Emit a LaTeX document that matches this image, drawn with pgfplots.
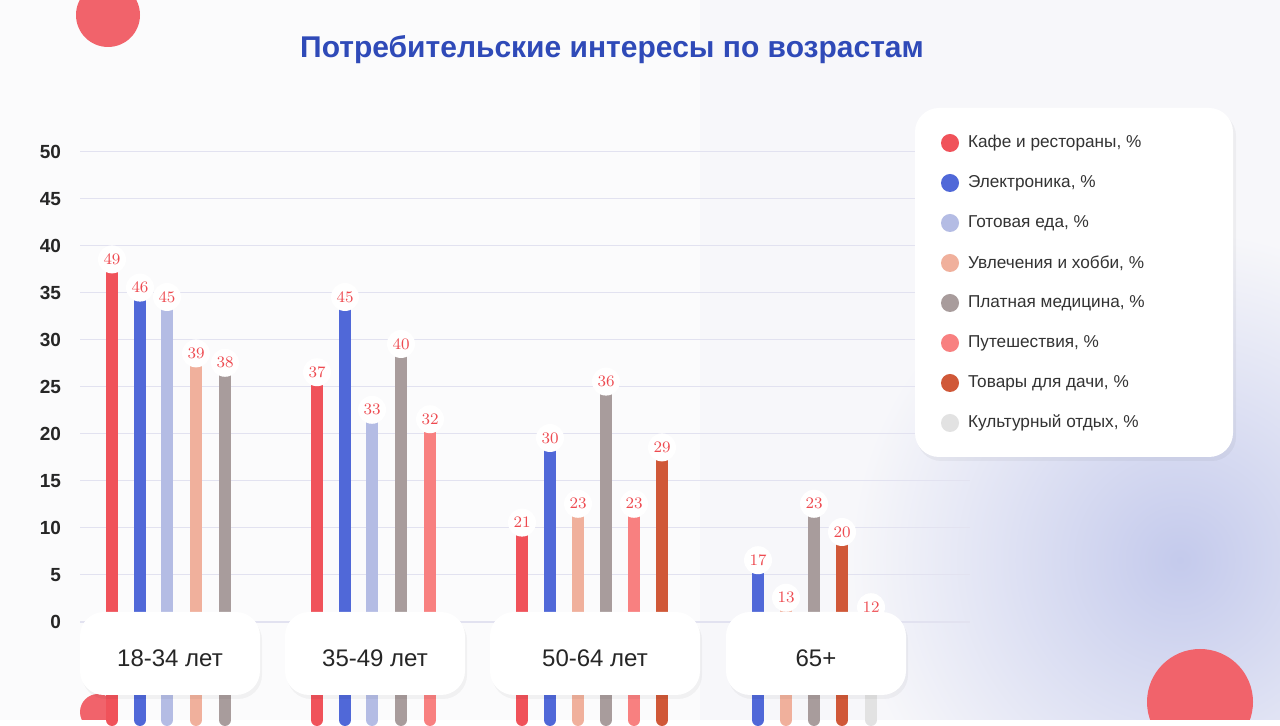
\documentclass[border=0pt]{standalone}
\usepackage{pgfplots}
\pgfplotsset{compat=1.18}
\usepackage{fontspec}
\setmainfont{Liberation Sans}
\definecolor{bg}{HTML}{F7F7FA}
\definecolor{cafe}{HTML}{F0525A}
\definecolor{elec}{HTML}{5068D8}
\definecolor{food}{HTML}{B4BCE4}
\definecolor{hobby}{HTML}{F0B09C}
\definecolor{med}{HTML}{A89C9C}
\definecolor{trav}{HTML}{F88080}
\definecolor{dacha}{HTML}{D05838}
\definecolor{cult}{HTML}{E2E2E2}
\definecolor{ttl}{HTML}{2F4AB8}
\definecolor{lbl}{HTML}{EE4A50}
\definecolor{grid}{HTML}{E2E2F0}
\begin{document}
\begin{tikzpicture}
\begin{scope}[x=0.5pt,y=-0.5pt,shift={(0,360pt)}]
\clip (0,0) rectangle (1280,720);
\fill[bg] (0,0) rectangle (1280,720);
\shade[inner color={rgb,255:red,196;green,202;blue,236}, outer color=bg] (1180,560) circle (330);
\fill[white, opacity=0.5] (0,0) rectangle (700,720);
\fill[cafe!90] (108,15) circle (32);
\fill[cafe!90] (98,712) circle (18);
\fill[cafe!90] (1200,702) circle (53);
\node[font=\fontsize{15}{18}\selectfont\bfseries, text=ttl] at (612,50) {Потребительские интересы по возрастам};
\foreach \k in {5,10,...,50} \draw[grid, line width=0.5pt] (80,{622-9.4*\k}) -- (970,{622-9.4*\k});
\draw[grid, line width=0.6pt] (80,622) -- (970,622);
\foreach \k in {0,5,...,50} \node[anchor=east, font=\fontsize{9.5}{11}\selectfont\bfseries, text=black!85] at (68,{622-9.4*\k}) {\k};
\end{scope}
\begin{axis}[at={(0,0)}, anchor=origin, scale only axis, width=640pt, height=360pt,
  xmin=0, xmax=1280, ymin=-10.4255, ymax=66.1702, axis lines=none,
  every axis plot/.append style={ycomb, line width=6pt, line cap=round, mark=none},
  nodes near coords, point meta=y,
  every node near coord/.append style={anchor=center, circle, fill=white, inner sep=0pt, minimum size=14pt, text=lbl, font=\fontsize{8.5}{10}\selectfont\bfseries},
  clip=false]
\addplot[cafe] coordinates {(112,49) (317,37) (522,21)};
\addplot[elec] coordinates {(140,46) (345,45) (550,30) (758,17)};
\addplot[food] coordinates {(167,45) (372,33)};
\addplot[hobby] coordinates {(196,39) (578,23) (786,13)};
\addplot[med] coordinates {(225,38) (401,40) (606,36) (814,23)};
\addplot[trav] coordinates {(430,32) (634,23)};
\addplot[dacha] coordinates {(662,29) (842,20)};
\addplot[cult] coordinates {(871,12)};
\end{axis}
\begin{scope}[x=0.5pt,y=-0.5pt,shift={(0,360pt)}]
\foreach \a/\b/\t in {80/260/18-34 лет, 285/465/35-49 лет, 490/700/50-64 лет, 726/906/65+}{
  \fill[black, opacity=0.04, rounded corners=12pt] ({\a+2},616) rectangle ({\b+2},699);
  \fill[white, rounded corners=12pt] (\a,612) rectangle (\b,695);
  \node[font=\fontsize{12}{14}\selectfont, text=black!85] at ({(\a+\b)/2},658) {\t};
}
\fill[black, opacity=0.04, rounded corners=12pt] (917,112) rectangle (1236,461);
\fill[white, rounded corners=12pt] (915,108) rectangle (1233,457);
\foreach \c/\t [count=\i from 0] in {cafe/{Кафе и рестораны, \%}, elec/{Электроника, \%}, food/{Готовая еда, \%}, hobby/{Увлечения и хобби, \%}, med/{Платная медицина, \%}, trav/{Путешествия, \%}, dacha/{Товары для дачи, \%}, cult/{Культурный отдых, \%}}{
  \fill[\c] (950,{143+40*\i}) circle (9);
  \node[anchor=west, font=\fontsize{8.6}{10}\selectfont, text=black!80] at (961,{143+40*\i}) {\t};
}
\end{scope}
\end{tikzpicture}
\end{document}
